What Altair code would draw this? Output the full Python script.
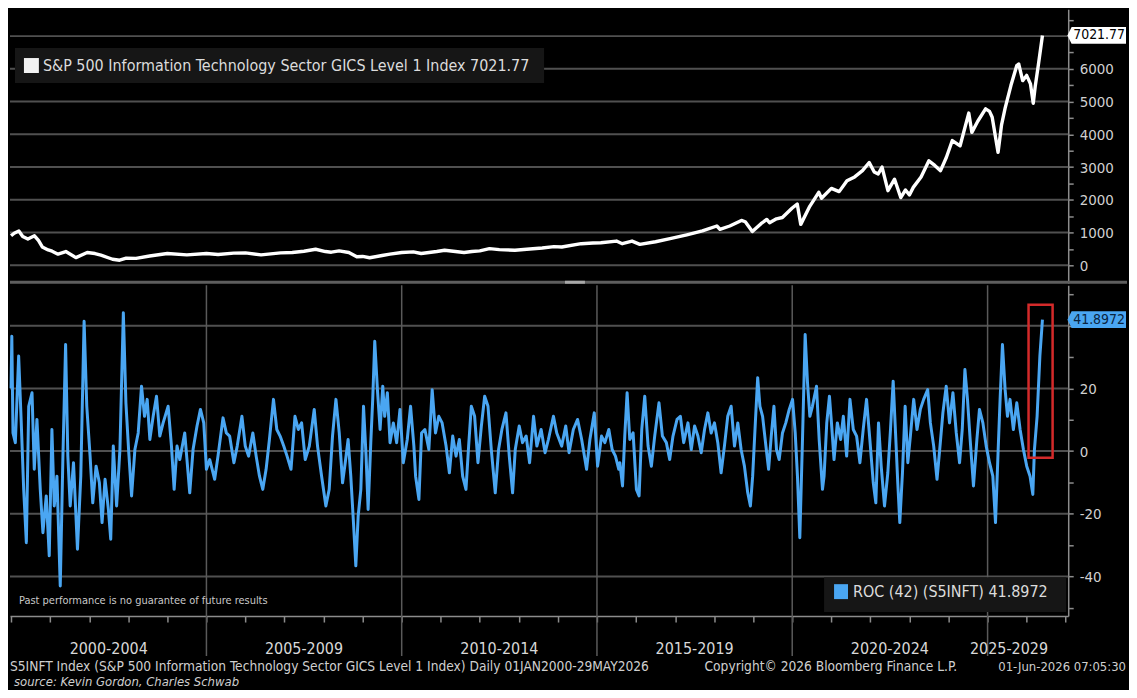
import altair as alt
import pandas as pd

# ---------------- data ----------------
# S&P 500 IT sector index level: (decimal year, value)
index_series = [
    (2000.00, 900), (2000.08, 980), (2000.20, 1050), (2000.30, 880), (2000.43, 800),
    (2000.60, 900), (2000.70, 760), (2000.80, 560), (2000.95, 470), (2001.05, 430),
    (2001.20, 340), (2001.40, 420), (2001.66, 235), (2001.95, 390), (2002.15, 360),
    (2002.30, 310), (2002.60, 185), (2002.78, 155), (2002.95, 220), (2003.20, 210),
    (2003.55, 285), (2004.00, 360), (2004.50, 320), (2005.00, 360), (2005.30, 330),
    (2005.70, 370), (2006.00, 380), (2006.40, 320), (2006.90, 380), (2007.20, 390),
    (2007.50, 430), (2007.80, 490), (2008.05, 420), (2008.20, 400), (2008.40, 440),
    (2008.65, 390), (2008.85, 260), (2009.00, 270), (2009.18, 230), (2009.50, 300),
    (2009.70, 340), (2010.00, 390), (2010.30, 410), (2010.50, 360), (2010.90, 420),
    (2011.10, 460), (2011.60, 390), (2011.80, 420), (2012.00, 440), (2012.25, 510),
    (2012.50, 480), (2012.90, 460), (2013.20, 490), (2013.60, 530), (2013.90, 570),
    (2014.10, 560), (2014.60, 660), (2014.90, 680), (2015.10, 690), (2015.50, 740),
    (2015.65, 660), (2015.90, 740), (2016.10, 640), (2016.50, 720), (2016.90, 820),
    (2017.30, 930), (2017.70, 1050), (2018.07, 1200), (2018.15, 1100), (2018.40, 1200),
    (2018.70, 1370), (2018.80, 1330), (2018.98, 1030), (2019.20, 1270), (2019.35, 1400),
    (2019.42, 1300), (2019.60, 1420), (2019.75, 1460), (2020.00, 1750), (2020.13, 1870),
    (2020.22, 1250), (2020.45, 1800), (2020.68, 2230), (2020.75, 2050), (2021.00, 2350),
    (2021.20, 2250), (2021.40, 2580), (2021.60, 2700), (2021.80, 2890), (2021.97, 3140),
    (2022.10, 2850), (2022.20, 2790), (2022.30, 3000), (2022.45, 2280), (2022.62, 2630),
    (2022.78, 2070), (2022.90, 2300), (2023.00, 2150), (2023.10, 2380), (2023.30, 2700),
    (2023.50, 3190), (2023.65, 3050), (2023.80, 2890), (2023.95, 3300), (2024.10, 3810),
    (2024.30, 3650), (2024.52, 4650), (2024.60, 4060), (2024.75, 4400), (2024.95, 4780),
    (2025.05, 4700), (2025.12, 4520), (2025.27, 3450), (2025.36, 4300), (2025.45, 4800),
    (2025.60, 5490), (2025.75, 6100), (2025.80, 6150), (2025.90, 5640), (2026.00, 5800),
    (2026.10, 5540), (2026.17, 4950), (2026.22, 5450), (2026.30, 6100), (2026.408, 7021.77),
]

# ROC (42) in percent: (decimal year, value)
roc_series = [
    (2000.000, 20.0), (2000.020, 36.6), (2000.051, 5.8), (2000.111, 2.7), (2000.196, 30.3),
    (2000.255, 11.1), (2000.323, -12.2), (2000.391, -29.2), (2000.451, 14.3), (2000.536, 18.6),
    (2000.595, -5.8), (2000.663, 10.1), (2000.748, -12.2), (2000.816, -26.0), (2000.901, -14.3),
    (2000.978, -33.4), (2001.046, 6.9), (2001.105, -17.5), (2001.173, -8.0), (2001.258, -43.0),
    (2001.327, -1.6), (2001.395, 34.0), (2001.454, -1.6), (2001.514, -17.5), (2001.599, -3.7),
    (2001.701, -31.3), (2001.786, -8.0), (2001.871, 41.4), (2001.939, 14.3), (2002.024, -1.6),
    (2002.092, -16.5), (2002.177, -4.8), (2002.262, -10.1), (2002.330, -22.8), (2002.406, -9.0),
    (2002.491, -18.6), (2002.551, -28.1), (2002.619, 1.6), (2002.704, -17.5), (2002.789, 0.5),
    (2002.874, 44.1), (2002.942, 15.4), (2003.010, 0.5), (2003.087, -14.3), (2003.172, 0.5),
    (2003.257, 5.8), (2003.342, 20.7), (2003.418, 11.1), (2003.486, 16.5), (2003.554, 3.7),
    (2003.639, 11.1), (2003.724, 17.5), (2003.809, 4.8), (2003.894, 9.0), (2004.022, 14.3),
    (2004.107, 1.6), (2004.175, -12.2), (2004.251, 1.6), (2004.320, -2.7), (2004.447, 5.8),
    (2004.575, -13.3), (2004.660, 0.5), (2004.762, 8.0), (2004.847, 13.3), (2004.932, 9.0),
    (2005.000, -5.8), (2005.085, -2.7), (2005.213, -9.0), (2005.298, -1.6), (2005.426, 10.6),
    (2005.511, 5.8), (2005.596, 4.8), (2005.706, -3.7), (2005.791, 1.6), (2005.910, 11.1),
    (2005.995, 1.6), (2006.080, -1.6), (2006.191, 5.8), (2006.276, -1.6), (2006.361, -8.0),
    (2006.446, -12.2), (2006.531, -5.8), (2006.616, 3.7), (2006.718, 16.5), (2006.803, 6.9),
    (2006.888, 4.8), (2006.982, 1.6), (2007.067, -1.6), (2007.169, -5.8), (2007.271, 11.1),
    (2007.356, 6.9), (2007.441, 9.0), (2007.534, -2.7), (2007.636, 1.6), (2007.764, 13.3),
    (2007.849, 1.6), (2007.951, -8.0), (2008.061, -17.5), (2008.146, -12.2), (2008.232, 4.8),
    (2008.317, 16.5), (2008.402, 5.8), (2008.487, -10.1), (2008.555, -3.7), (2008.631, 3.7),
    (2008.699, -8.0), (2008.767, -22.8), (2008.827, -36.6), (2008.886, -20.7), (2008.954, -12.2),
    (2009.022, 14.3), (2009.090, -1.6), (2009.141, -18.6), (2009.209, 2.7), (2009.260, 16.5),
    (2009.311, 35.0), (2009.380, 19.6), (2009.448, 6.9), (2009.516, 20.7), (2009.567, 11.1),
    (2009.635, 18.6), (2009.703, 2.7), (2009.788, 9.0), (2009.873, 2.7), (2009.958, 13.3),
    (2010.043, -3.7), (2010.145, 3.7), (2010.230, 14.3), (2010.315, 1.6), (2010.357, -8.0),
    (2010.442, -15.4), (2010.510, 5.8), (2010.595, 6.9), (2010.697, 0.5), (2010.782, 19.6),
    (2010.867, 5.8), (2010.952, 11.1), (2011.037, 9.0), (2011.139, 1.6), (2011.224, -6.9),
    (2011.309, 4.8), (2011.394, -1.6), (2011.479, 3.7), (2011.564, -8.0), (2011.649, -12.2),
    (2011.717, 1.6), (2011.785, 14.3), (2011.870, 11.1), (2011.956, -3.7), (2012.041, 8.0),
    (2012.126, 17.5), (2012.211, 14.3), (2012.296, 0.5), (2012.398, -13.3), (2012.483, 0.5),
    (2012.568, 6.9), (2012.670, 12.2), (2012.755, -1.6), (2012.840, -13.3), (2012.908, 0.5),
    (2013.010, 8.0), (2013.095, 2.7), (2013.189, 4.8), (2013.274, -3.7), (2013.376, 11.1),
    (2013.461, 1.6), (2013.571, 6.9), (2013.673, -0.5), (2013.758, 3.7), (2013.886, 11.1),
    (2013.971, 5.8), (2014.098, 1.6), (2014.200, 8.0), (2014.285, -0.5), (2014.396, 6.9),
    (2014.506, 10.1), (2014.609, 3.7), (2014.736, -5.8), (2014.821, 3.7), (2014.932, 12.2),
    (2015.017, -4.8), (2015.119, 4.8), (2015.204, 2.7), (2015.306, 6.9), (2015.391, 0.5),
    (2015.476, -1.6), (2015.561, -5.8), (2015.587, -3.7), (2015.655, -11.1), (2015.715, 4.8),
    (2015.774, 18.6), (2015.842, 3.7), (2015.927, 5.8), (2016.012, -12.2), (2016.080, -14.3),
    (2016.148, 6.9), (2016.225, 17.5), (2016.310, 1.6), (2016.395, -4.8), (2016.480, 4.8),
    (2016.590, 15.4), (2016.675, 4.8), (2016.777, 2.7), (2016.862, -2.7), (2016.947, 4.8),
    (2017.050, 10.1), (2017.135, 11.1), (2017.220, 2.7), (2017.330, 9.0), (2017.415, 0.5),
    (2017.500, 8.0), (2017.585, 4.8), (2017.670, -0.5), (2017.755, 6.9), (2017.840, 12.2),
    (2017.925, 5.8), (2018.010, 9.0), (2018.095, 2.7), (2018.180, -6.9), (2018.265, 1.6),
    (2018.350, 11.1), (2018.436, 14.3), (2018.521, 1.6), (2018.606, 9.0), (2018.691, 0.5),
    (2018.776, -4.8), (2018.861, -13.3), (2018.929, -17.5), (2018.988, -8.0), (2019.056, 9.0),
    (2019.116, 23.4), (2019.175, 14.3), (2019.243, 11.1), (2019.328, 1.6), (2019.396, -5.8),
    (2019.464, 4.8), (2019.532, 14.3), (2019.600, 0.5), (2019.668, -2.7), (2019.753, 5.8),
    (2019.838, 9.0), (2019.924, 13.3), (2020.009, 16.5), (2020.077, 5.8), (2020.136, -8.0),
    (2020.196, -27.6), (2020.264, 3.7), (2020.332, 37.2), (2020.391, 21.8), (2020.451, 11.1),
    (2020.519, 14.3), (2020.621, 20.7), (2020.689, 3.7), (2020.774, -12.2), (2020.816, -8.0),
    (2020.884, 9.0), (2020.952, 17.5), (2021.003, 9.0), (2021.071, -2.7), (2021.156, 9.0),
    (2021.241, 3.7), (2021.309, 11.1), (2021.394, -1.6), (2021.479, 16.5), (2021.564, 6.9),
    (2021.649, 4.8), (2021.734, -3.7), (2021.819, 6.9), (2021.904, 16.5), (2021.989, 3.7),
    (2022.074, -10.1), (2022.142, -16.5), (2022.210, 9.0), (2022.278, -4.8), (2022.364, -17.5),
    (2022.449, -6.9), (2022.517, 6.9), (2022.585, 22.3), (2022.653, 3.7), (2022.704, -10.1),
    (2022.755, -22.8), (2022.823, -6.9), (2022.891, 14.3), (2022.959, -3.7), (2023.027, 4.8),
    (2023.112, 16.5), (2023.197, 6.9), (2023.282, 13.3), (2023.367, 16.5), (2023.469, 19.6),
    (2023.537, 9.0), (2023.622, 1.6), (2023.707, -9.0), (2023.792, 2.7), (2023.860, 12.2),
    (2023.945, 20.7), (2024.030, 9.0), (2024.115, 18.6), (2024.200, 5.8), (2024.285, -3.7),
    (2024.353, 6.9), (2024.421, 26.0), (2024.489, 16.5), (2024.557, 3.7), (2024.642, -11.1),
    (2024.727, 3.7), (2024.795, 13.3), (2024.880, 9.0), (2024.966, 1.6), (2025.051, -3.7),
    (2025.136, -8.0), (2025.204, -22.8), (2025.272, 0.5), (2025.323, 16.5), (2025.382, 34.0),
    (2025.450, 19.6), (2025.510, 11.1), (2025.578, 16.5), (2025.663, 6.9), (2025.748, 15.4),
    (2025.833, 6.9), (2025.918, 0.5), (2026.003, -4.8), (2026.088, -8.0), (2026.160, -13.8),
    (2026.200, 0.5), (2026.270, 11.1), (2026.340, 30.3), (2026.408, 41.8972),
]

period_labels = ["2000-2004", "2005-2009", "2010-2014", "2015-2019", "2020-2024", "2025-2029"]
period_label_dates = ["2002-07-02", "2007-07-02", "2012-07-02", "2017-07-02", "2022-07-02", "2025-07-20"]
period_starts = ["2005-01-01", "2010-01-01", "2015-01-01", "2020-01-01", "2025-01-01"]

top_grid = [0, 1000, 2000, 3000, 4000, 5000, 6000, 7000]
bottom_grid = [-40, -20, 0, 20, 40]
top_ticks = [-500, 0, 500, 1000, 1500, 2000, 2500, 3000, 3500, 4000, 4500,
             5000, 5500, 6000, 6500, 7000, 7500]
bottom_ticks = [-50, -40, -30, -20, -10, 0, 10, 20, 30, 40, 50]

last_index = 7021.77
last_roc = 41.8972
highlight_box = {"start": "2026-01-19", "end": "2026-09-01", "top": 46.7, "bottom": -2.1}

index_legend = "S&P 500 Information Technology Sector GICS Level 1 Index 7021.77"
roc_legend = "ROC (42) (S5INFT) 41.8972"
disclaimer = "Past performance is no guarantee of future results"
footer_left = ("S5INFT Index (S&P 500 Information Technology Sector GICS Level 1 Index) "
               "Daily 01JAN2000-29MAY2026")
footer_mid = "Copyright\u00a9 2026 Bloomberg Finance L.P."
footer_right = "01-Jun-2026 07:05:30"
source_note = "source: Kevin Gordon, Charles Schwab"


# ---------------- helpers ----------------
def ydate(y):
    yi = int(y)
    s = pd.Timestamp(year=yi, month=1, day=1)
    e = pd.Timestamp(year=yi + 1, month=1, day=1)
    return (s + (e - s) * (y - yi)).strftime("%Y-%m-%d")


idx_df = pd.DataFrame({"date": [ydate(y) for y, _ in index_series],
                       "value": [v for _, v in index_series]})
roc_df = pd.DataFrame({"date": [ydate(y) for y, _ in roc_series],
                       "value": [v for _, v in roc_series]})

FONT = "'DejaVu Sans Condensed', 'Liberation Sans Narrow', 'Roboto Condensed', Roboto, sans-serif"
GRID = "#505050"
AX = "#8c8c8c"
LBL = "#d0d0d0"
BLUE = "#4aa6f2"
CALLOUT = "M-1.1,0L-0.95,-0.3L1,-0.3L1,0.3L-0.95,0.3Z"

W, HT, HB = 1062, 275, 332

xsc = alt.Scale(type="utc", domain=[alt.DateTime(year=1999, month=12, date=22, utc=True),
                                    alt.DateTime(year=2027, month=1, date=25, utc=True)])
ysc_top = alt.Scale(domain=[-548, 7822], nice=False, zero=False)
ysc_bot = alt.Scale(domain=[-52.6, 52.9], nice=False, zero=False)


def right_axis(values, expr):
    return alt.Axis(orient="right", values=values, labelExpr=expr, grid=False, title=None,
                    tickSize=5, tickColor=AX, tickWidth=1.5, domainColor=AX, domainWidth=1.5,
                    labelColor=LBL, labelFont=FONT, labelFontSize=15, labelPadding=6,
                    labelOverlap=False)


TOP_Y_AXIS = right_axis(
    top_ticks, "datum.value % 1000 === 0 && datum.value >= 0 && datum.value < 7000 ? '' + datum.value : ''")
BOT_Y_AXIS = right_axis(
    bottom_ticks, "datum.value % 20 === 0 && datum.value !== 40 ? '' + datum.value : ''")
BOT_X_AXIS = alt.Axis(orient="bottom", labels=False, title=None, grid=False,
                      tickCount={"interval": "year", "step": 1}, tickSize=6,
                      tickColor=AX, tickWidth=1.5, domainColor=AX, domainWidth=1.5)


def text_at(txt, x, y, size, color=LBL, align="left", **kw):
    return alt.Chart(pd.DataFrame({"t": [txt]})).mark_text(
        font=FONT, fontSize=size, color=color, align=align, baseline="middle", **kw
    ).encode(text="t:N", x=alt.value(x), y=alt.value(y))


def box_at(x, x2, y, y2, color):
    return alt.Chart(pd.DataFrame({"k": [0]})).mark_rect(color=color).encode(
        x=alt.value(x), x2=alt.value(x2), y=alt.value(y), y2=alt.value(y2))


def rule_at(x, x2, y, color, width):
    return alt.Chart(pd.DataFrame({"k": [0]})).mark_rule(color=color, strokeWidth=width).encode(
        x=alt.value(x), x2=alt.value(x2), y=alt.value(y))


# ---------------- top panel ----------------
top_gridlines = alt.Chart(pd.DataFrame({"g": top_grid})).mark_rule(
    color=GRID, strokeWidth=2).encode(y=alt.Y("g:Q", scale=ysc_top, axis=TOP_Y_AXIS))

top_line = alt.Chart(idx_df).mark_line(color="#ffffff", strokeWidth=3.4, strokeJoin="round").encode(
    x=alt.X("date:T", scale=xsc, axis=None),
    y=alt.Y("value:Q", scale=ysc_top, axis=TOP_Y_AXIS))

top_call_df = pd.DataFrame({"v": [last_index], "t": [f"{last_index:.2f}"]})
top_call = alt.Chart(top_call_df).mark_point(
    shape=CALLOUT, size=3136, filled=True, fill="#ffffff", opacity=1, strokeOpacity=0).encode(
    x=alt.value(W + 30), y=alt.Y("v:Q", scale=ysc_top, axis=TOP_Y_AXIS))
top_call_txt = alt.Chart(top_call_df).mark_text(
    font=FONT, fontSize=14, color="#000000", align="center", baseline="middle").encode(
    x=alt.value(W + 31), y=alt.Y("v:Q", scale=ysc_top, axis=TOP_Y_AXIS), text="t:N")

top = alt.layer(
    top_gridlines,
    box_at(5, 536, 39, 74, "#161616"),
    box_at(14, 29, 49, 64, "#f2f2f2"),
    text_at(index_legend, 33, 57, 16, color="#dcdcdc"),
    top_line,
    top_call, top_call_txt,
    rule_at(0, W + 59, HT - 1, "#5e5e5e", 3),
    rule_at(557, 577, HT - 1, "#a8a8a8", 3),
).properties(width=W, height=HT)

# ---------------- bottom panel ----------------
bot_gridlines = alt.Chart(pd.DataFrame({"g": bottom_grid})).mark_rule(
    color=GRID, strokeWidth=2).encode(y=alt.Y("g:Q", scale=ysc_bot, axis=BOT_Y_AXIS))

period_rules = alt.Chart(pd.DataFrame({"d": period_starts})).mark_rule(
    color="#5a5a5a", strokeWidth=1.5).encode(
    x=alt.X("d:T", scale=xsc, axis=BOT_X_AXIS), y=alt.value(0), y2=alt.value(HB + 40))

roc_line = alt.Chart(roc_df).mark_line(color=BLUE, strokeWidth=3, strokeJoin="round").encode(
    x=alt.X("date:T", scale=xsc, axis=BOT_X_AXIS),
    y=alt.Y("value:Q", scale=ysc_bot, axis=BOT_Y_AXIS))

hb = highlight_box
red_box = alt.Chart(pd.DataFrame({"x1": [hb["start"]], "x2": [hb["end"]],
                                  "y1": [hb["top"]], "y2": [hb["bottom"]]})).mark_rect(
    fillOpacity=0, stroke="#d42a2a", strokeWidth=2.5).encode(
    x=alt.X("x1:T", scale=xsc, axis=BOT_X_AXIS), x2="x2:T",
    y=alt.Y("y1:Q", scale=ysc_bot, axis=BOT_Y_AXIS), y2="y2:Q")

bot_call_df = pd.DataFrame({"v": [last_roc], "t": [f"{last_roc:.4f}"]})
bot_call = alt.Chart(bot_call_df).mark_point(
    shape=CALLOUT, size=3136, filled=True, fill=BLUE, opacity=1, strokeOpacity=0).encode(
    x=alt.value(W + 30), y=alt.Y("v:Q", scale=ysc_bot, axis=BOT_Y_AXIS))
bot_call_txt = alt.Chart(bot_call_df).mark_text(
    font=FONT, fontSize=14, color="#0a2440", align="center", baseline="middle").encode(
    x=alt.value(W + 31), y=alt.Y("v:Q", scale=ysc_bot, axis=BOT_Y_AXIS), text="t:N")

period_txt = alt.Chart(pd.DataFrame({"d": period_label_dates, "t": period_labels})).mark_text(
    font=FONT, fontSize=16, color="#d8d8d8", align="center", baseline="middle").encode(
    x=alt.X("d:T", scale=xsc, axis=BOT_X_AXIS), y=alt.value(HB + 33), text="t:N")

bottom = alt.layer(
    bot_gridlines,
    period_rules,
    roc_line,
    red_box,
    box_at(817, 1060, 293, 328, "#161616"),
    box_at(827, 841, 300, 315, BLUE),
    text_at(roc_legend, 846, 308, 16, color="#dcdcdc"),
    text_at(disclaimer, 9, 317, 11, color="#c8c8c8"),
    bot_call, bot_call_txt,
    period_txt,
    text_at(footer_left, 0, HB + 51, 13.7, color="#cfcfcf"),
    text_at(footer_mid, 697, HB + 51, 13.7, color="#cfcfcf"),
    text_at(footer_right, W + 58, HB + 51, 13, color="#cfcfcf", align="right"),
    text_at(source_note, 4, HB + 66, 13, color="#cfcfcf", fontStyle="italic"),
).properties(width=W, height=HB)

chart = alt.vconcat(top, bottom, spacing=2).properties(
    background="#000000", padding=0, bounds="flush"
).configure_view(stroke=None)

chart.save("out.html", embed_options={"renderer": "svg", "actions": False})
